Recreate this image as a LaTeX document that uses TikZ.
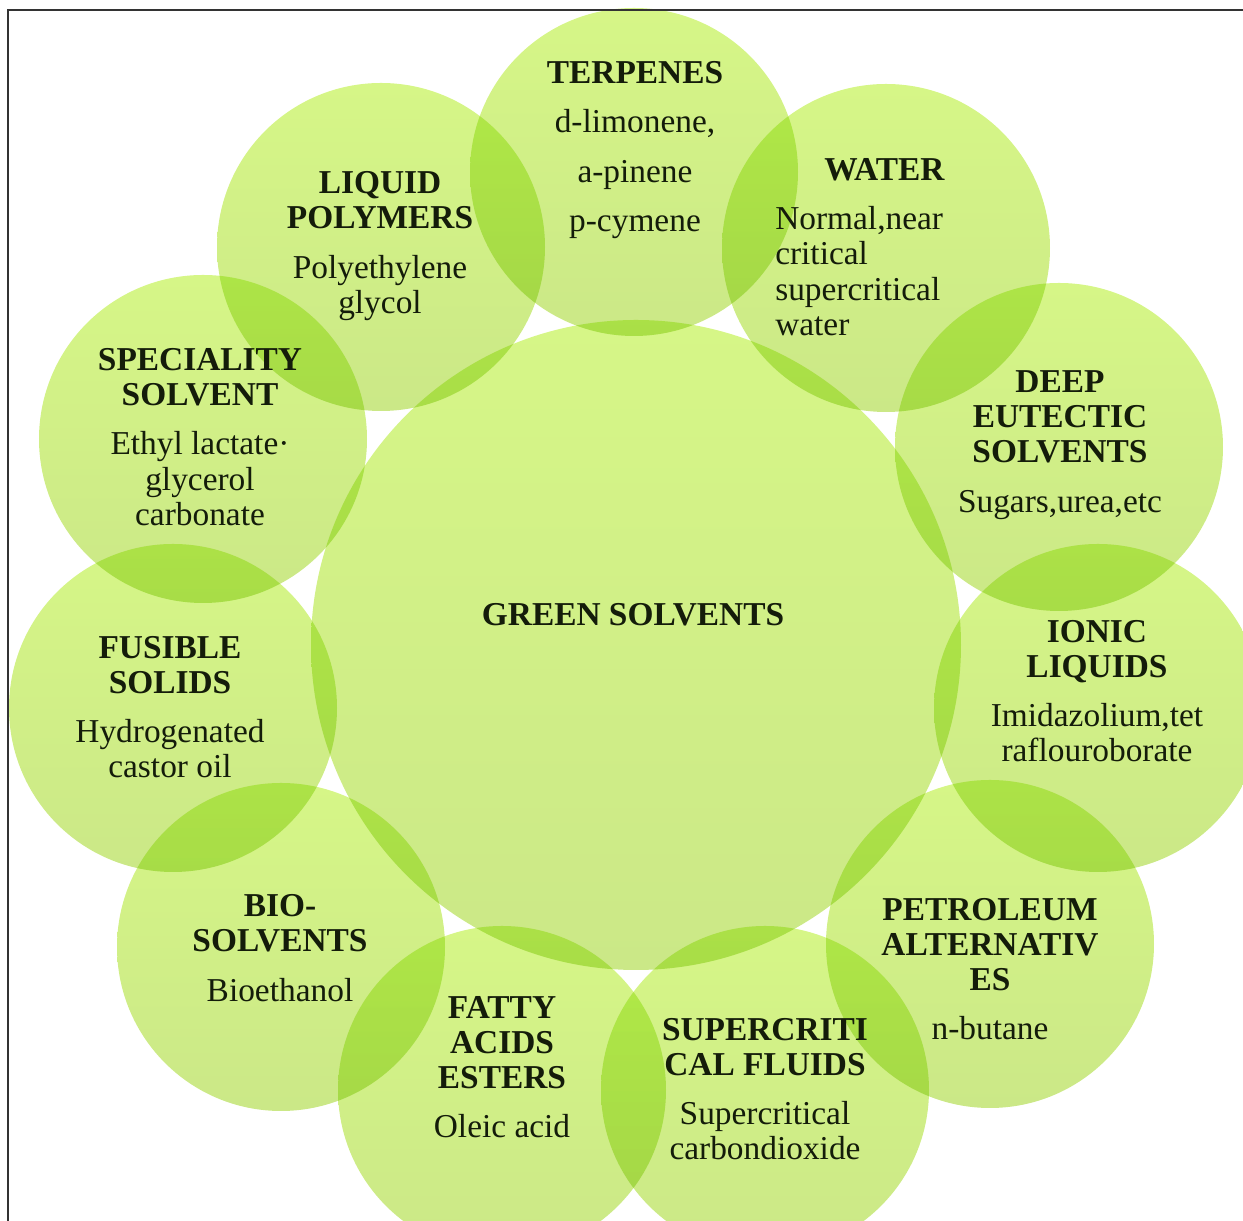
\documentclass[tikz,border=0pt]{standalone}
\usepackage{fontspec}
\setmainfont{Liberation Serif}
\definecolor{leaftop}{RGB}{214,246,135}
\definecolor{leafbottom}{RGB}{203,232,135}
\definecolor{ink}{RGB}{20,28,10}
\begin{document}
\begin{tikzpicture}[
  bubble/.style={shape=circle, top color=leaftop, bottom color=leafbottom, blend mode=multiply, minimum size=3.28cm, inner sep=0pt},
  hub/.style={shape=circle, top color=leaftop, bottom color=leafbottom, blend mode=multiply, minimum size=6.5cm, inner sep=0pt},
  caption/.style={align=center, text=ink, font=\fontsize{9.5}{10}\selectfont, inner sep=0pt}
]
\clip (0,0) rectangle (12.43,12.21);
% circles
\node[hub] (green) at (6.36,5.76) {};
\node[bubble] (terpenes) at (6.34,10.49) {};
\node[bubble] (water) at (8.86,9.73) {};
\node[bubble] (deep) at (10.59,7.74) {};
\node[bubble] (ionic) at (10.98,5.13) {};
\node[bubble] (petroleum) at (9.90,2.77) {};
\node[bubble] (supercritical) at (7.65,1.31) {};
\node[bubble] (fatty) at (5.02,1.31) {};
\node[bubble] (bio) at (2.81,2.74) {};
\node[bubble] (fusible) at (1.73,5.13) {};
\node[bubble] (speciality) at (2.03,7.82) {};
\node[bubble] (liquid) at (3.81,9.74) {};
% texts
\node[caption] (greentext) at (6.33,6.06) {\textbf{GREEN SOLVENTS}};
\node[caption] (terpenestext) at (6.35,10.71) {\textbf{TERPENES}\\[4pt] d-limonene,\\[4pt] a-pinene\\[4pt] p-cymene};
\node[caption, align=left] (watertext) at (8.60,9.74) {\hspace*{14pt}\textbf{WATER}\\[4pt] Normal,near\\ critical\\ supercritical\\ water};
\node[caption] (deeptext) at (10.60,7.76) {\textbf{DEEP}\\ \textbf{EUTECTIC}\\ \textbf{SOLVENTS}\\[4pt] Sugars,urea,etc};
\node[caption] (ionictext) at (10.97,5.30) {\textbf{IONIC}\\ \textbf{LIQUIDS}\\[4pt] Imidazolium,tet\\ raflouroborate};
\node[caption] (petroleumtext) at (9.90,2.52) {\textbf{PETROLEUM}\\ \textbf{ALTERNATIV}\\ \textbf{ES}\\[4pt] n-butane};
\node[caption] (supercriticaltext) at (7.65,1.32) {\textbf{SUPERCRITI}\\ \textbf{CAL FLUIDS}\\[4pt] Supercritical\\ carbondioxide};
\node[caption] (fattytext) at (5.02,1.54) {\textbf{FATTY}\\ \textbf{ACIDS}\\ \textbf{ESTERS}\\[4pt] Oleic acid};
\node[caption] (biotext) at (2.80,2.73) {\textbf{BIO-}\\ \textbf{SOLVENTS}\\[4pt] Bioethanol};
\node[caption] (fusibletext) at (1.70,5.14) {\textbf{FUSIBLE}\\ \textbf{SOLIDS}\\[4pt] Hydrogenated\\ castor oil};
\node[caption] (specialitytext) at (2.00,7.84) {\textbf{SPECIALITY}\\ \textbf{SOLVENT}\\[4pt] Ethyl lactate·\\ glycerol\\ carbonate};
\node[caption] (liquidtext) at (3.80,9.75) {\textbf{LIQUID}\\ \textbf{POLYMERS}\\[4pt] Polyethylene\\ glycol};
% frame
\draw[thick, black!80] (0.08,0) -- (0.08,12.11) -- (12.43,12.11);
\end{tikzpicture}
\end{document}
